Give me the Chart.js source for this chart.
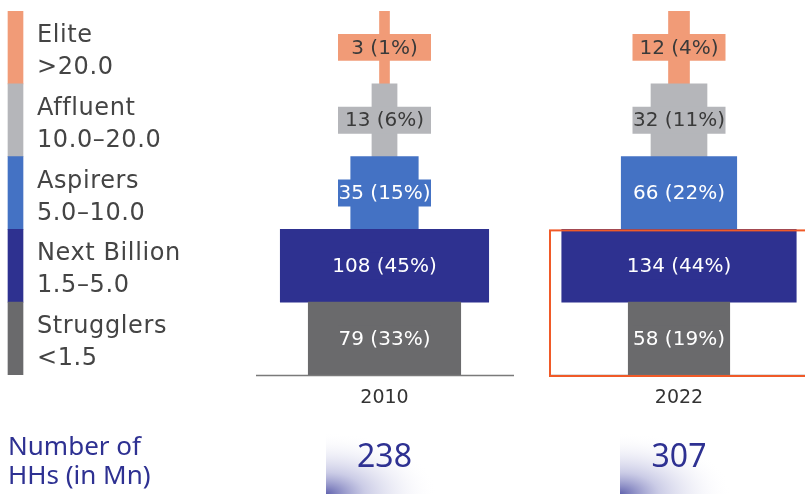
<!DOCTYPE html>
<html>
<head>
<meta charset="utf-8">
<script src="https://cdn.jsdelivr.net/npm/chart.js@4"></script>
<style>
    body { margin: 0; background: #ffffff; }
    #wrap { width: 805px; height: 494px; position: relative; }
</style>
</head>
<body>
<div id="wrap"><canvas id="myChart"></canvas></div>
<script>
// data
const tiers = ['Elite', 'Affluent', 'Aspirers', 'Next Billion', 'Strugglers'];
const ranges = ['>20.0', '10.0–20.0', '5.0–10.0', '1.5–5.0', '<1.5'];
const years = ['2010', '2022'];
const hh2010 = [3, 13, 35, 108, 79];
const hh2022 = [12, 32, 66, 134, 58];
const share2010 = [1, 6, 15, 45, 33];
const share2022 = [4, 11, 22, 44, 19];
const totals = [238, 307];

const tierColors = ['#f19b77', '#b5b6ba', '#4472c4', '#2e3190', '#6a6a6c'];
const textColors = ['#3a3a3a', '#3a3a3a', '#ffffff', '#ffffff', '#ffffff'];

// layout (x axis runs in page pixels)
const centers = [384.5, 679];
const pxPerUnit = [1.93, 1.75];
const minWidth = 10;
const boxWidth = 93;

function spans(values, col) {
    return values.map(function(v) {
        let w = Math.max(v * pxPerUnit[col], minWidth);
        return [centers[col] - w / 2, centers[col] + w / 2];
    });
}

function boxes(col) {
    return tiers.map(function() {
        return [centers[col] - boxWidth / 2, centers[col] + boxWidth / 2];
    });
}

function barSet(label, data, pct) {
    return {
        label: label,
        data: data,
        backgroundColor: tierColors,
        borderWidth: 0,
        borderSkipped: false,
        grouped: false,
        barPercentage: pct,
        categoryPercentage: 1
    };
}

const extras = {
    id: 'extras',
    beforeDraw: function(chart) {
        const ctx = chart.ctx;
        ctx.save();
        ctx.fillStyle = '#ffffff';
        ctx.fillRect(0, 0, chart.width, chart.height);
        // soft corner shading under the totals
        [326, 620].forEach(function(x0) {
            ctx.save();
            ctx.beginPath();
            ctx.rect(x0, 415, 130, 79);
            ctx.clip();
            ctx.translate(x0, 494);
            ctx.scale(1.8, 1);
            let g = ctx.createRadialGradient(0, 0, 0, 0, 0, 62);
            g.addColorStop(0, 'rgba(80, 82, 165, 0.9)');
            g.addColorStop(0.35, 'rgba(140, 142, 200, 0.45)');
            g.addColorStop(1, 'rgba(255, 255, 255, 0)');
            ctx.fillStyle = g;
            ctx.fillRect(0, -80, 80, 80);
            ctx.restore();
        });
        ctx.restore();
    },
    afterDatasetsDraw: function(chart) {
        const ctx = chart.ctx;
        const y = chart.scales.y;
        const band = y.getPixelForValue(1) - y.getPixelForValue(0);
        ctx.save();

        // value labels
        ctx.textAlign = 'center';
        ctx.textBaseline = 'middle';
        ctx.font = '20px "DejaVu Sans"';
        [[hh2010, share2010], [hh2022, share2022]].forEach(function(pair, col) {
            for (let i = 0; i < tiers.length; i++) {
                ctx.fillStyle = textColors[i];
                ctx.fillText(pair[0][i] + ' (' + pair[1][i] + '%)', centers[col], y.getPixelForValue(i) + 1);
            }
        });

        // legend text
        ctx.textAlign = 'left';
        ctx.textBaseline = 'alphabetic';
        ctx.font = '24px "DejaVu Sans"';
        ctx.letterSpacing = '0.6px';
        ctx.fillStyle = '#444444';
        for (let i = 0; i < tiers.length; i++) {
            let top = y.getPixelForValue(i) - band / 2;
            ctx.fillText(tiers[i], 37, top + 31);
            ctx.fillText(ranges[i], 37, top + 63);
        }
        ctx.letterSpacing = '0px';

        // baselines
        let base = y.getPixelForValue(4) + band / 2;
        ctx.strokeStyle = '#7a7a7a';
        ctx.lineWidth = 1.5;
        ctx.beginPath();
        ctx.moveTo(256, base + 0.5);
        ctx.lineTo(514, base + 0.5);
        ctx.moveTo(549, base + 0.5);
        ctx.lineTo(805, base + 0.5);
        ctx.stroke();

        // highlight box round 2022 lower tiers
        let top3 = y.getPixelForValue(3) - band / 2;
        ctx.strokeStyle = '#f05a28';
        ctx.lineWidth = 2;
        ctx.strokeRect(550, top3 + 1, 262, base - top3);

        // year labels
        ctx.textAlign = 'center';
        ctx.font = '19px "DejaVu Sans"';
        ctx.fillStyle = '#333333';
        years.forEach(function(yr, col) {
            ctx.fillText(yr, centers[col], 403);
        });

        // totals
        ctx.font = '32px "Noto Sans"';
        ctx.fillStyle = '#2e3192';
        totals.forEach(function(t, col) {
            ctx.fillText(String(t), centers[col], 467);
        });

        ctx.textAlign = 'left';
        ctx.font = '26px "Noto Sans"';
        ctx.fillText('Number of', 8, 455);
        ctx.fillText('HHs (in Mn)', 8, 484);

        ctx.restore();
    }
};

const data = {
    labels: tiers,
    datasets: [
        barSet('legend', tiers.map(function() { return [8, 23]; }), 1),
        barSet('2010 label', boxes(0), 0.37),
        barSet('2010', spans(hh2010, 0), 1),
        barSet('2022 label', boxes(1), 0.37),
        barSet('2022', spans(hh2022, 1), 1)
    ]
};

const config = {
    type: 'bar',
    data: data,
    options: {
        indexAxis: 'y',
        responsive: true,
        maintainAspectRatio: false,
        animation: false,
        layout: {
            padding: { top: 11, bottom: 119, left: 0, right: 0 }
        },
        scales: {
            x: { type: 'linear', min: 0, max: 805, display: false },
            y: { type: 'category', display: false }
        },
        plugins: {
            legend: { display: false },
            tooltip: { enabled: false }
        }
    },
    plugins: [extras]
};

const myChart = new Chart(document.getElementById('myChart'), config);
</script>
</body>
</html>
